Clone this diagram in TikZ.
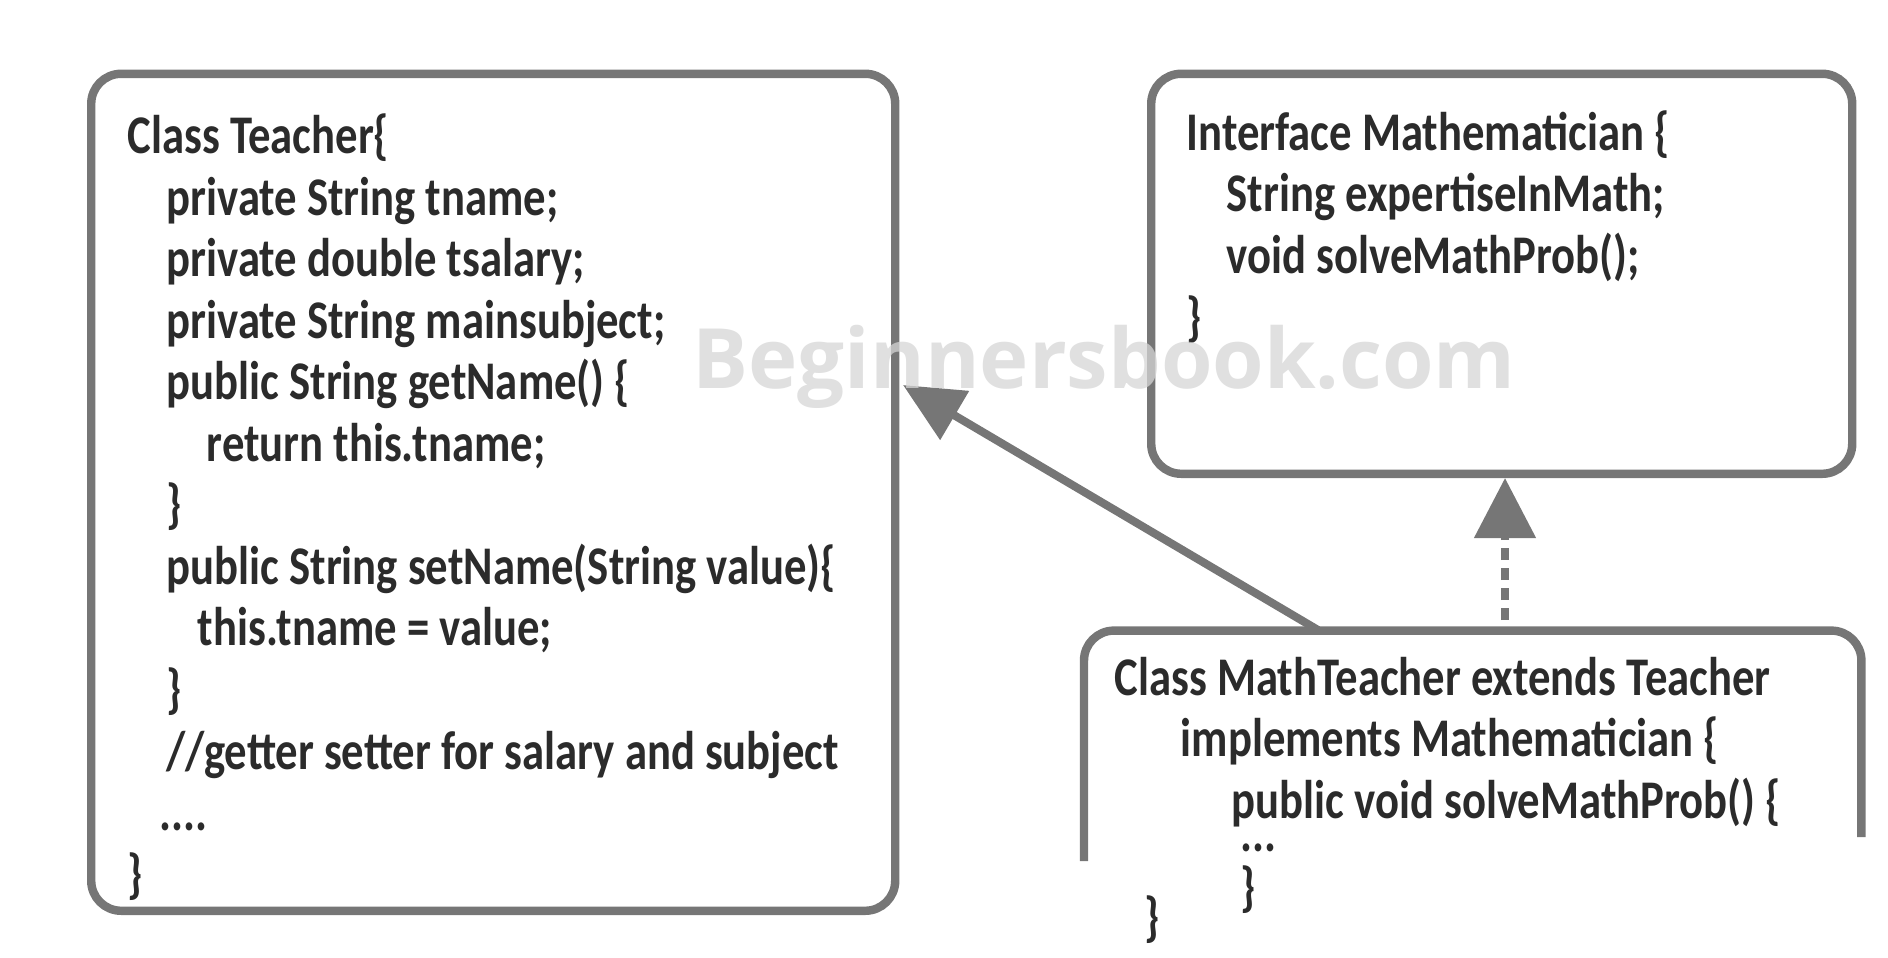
\documentclass[tikz,border=0pt]{standalone}
\usepackage{fontspec}
\usepackage{tikz}
\usetikzlibrary{arrows.meta}

\newfontfamily\codefont{Carlito}[FakeStretch=0.82]
\newfontfamily\markfont{Open Sans}
\definecolor{boxgray}{HTML}{767676}
\definecolor{codegray}{HTML}{2B2B2B}
\definecolor{markgray}{HTML}{D6D6D6}

\tikzset{
  codebox/.style={rectangle, draw=boxgray, line width=2.4pt, fill=white, rounded corners=0.3cm, anchor=south west},
  code/.style={inner sep=0pt, anchor=base west, align=left, text=codegray, font=\codefont\bfseries\fontsize{15.5}{17.5}\selectfont},
  link/.style={draw=boxgray, line width=2.3pt},
}

\begin{document}
\begin{tikzpicture}

\useasboundingbox (0,0) rectangle (18.88,9.57);

\node at (0.87,0.42) [codebox, minimum width=8.04cm, minimum height=8.37cm] (teacher) {};
\node at (11.47,4.79) [codebox, minimum width=7.01cm, minimum height=4.00cm] (mathematician) {};
\node at (10.84,0.96) [rectangle, minimum width=7.76cm, minimum height=2.29cm, anchor=south west] (mathteacher) {};
\draw[boxgray, line width=2.4pt, rounded corners=0.3cm] (mathteacher.south west) -- (mathteacher.north west) -- (mathteacher.north east) -- ([yshift=0.24cm]mathteacher.south east);

% base anchor sits on the last line
\node at (1.27,0.65) [code] (teachercode) {Class Teacher\{\\
\hspace*{0.39cm}private String tname;\\
\hspace*{0.39cm}private double tsalary;\\
\hspace*{0.39cm}private String mainsubject;\\
\hspace*{0.39cm}public String getName() \{\\
\hspace*{0.79cm}return this.tname;\\
\hspace*{0.39cm}\}\\
\hspace*{0.39cm}public String setName(String value)\{\\
\hspace*{0.70cm}this.tname = value;\\
\hspace*{0.39cm}\}\\
\hspace*{0.39cm}//getter setter for salary and subject\\
\hspace*{0.32cm}....\\
\}};

\node at (11.86,6.22) [code] (mathematiciancode) {Interface Mathematician \{\\
\hspace*{0.40cm}String expertiseInMath;\\
\hspace*{0.40cm}void solveMathProb();\\
\}};

\node at (11.14,1.39) [code] (mathteachercode) {Class MathTeacher extends Teacher\\
\hspace*{0.66cm}implements Mathematician \{\\
\hspace*{1.17cm}public void solveMathProb() \{};
\node at (12.40,1.06) [code] (mathteacherdots) {...};
\node at (12.40,0.52) [code] (mathteacherclose) {\}};
\node at (11.44,0.22) [code] (classclose) {\}};

\coordinate (extendsfoot) at (13.18,3.27);
\coordinate (extendstip) at (9.03,5.72);
\coordinate (implementsfoot) at (15.05,3.37);
\draw[link, -{Triangle[length=0.6cm, width=0.55cm]}] (extendsfoot) -- (extendstip);
\draw[link, dash pattern=on 0.12cm off 0.08cm, -{Triangle[length=0.6cm, width=0.6cm]}] (implementsfoot) -- (implementsfoot |- mathematician.south);

\node at (6.92,5.69) [anchor=base west, inner sep=0pt, text=markgray, opacity=0.75, font=\markfont\bfseries\fontsize{23.7}{28}\selectfont] (watermark) {Beginnersbook.com};

\end{tikzpicture}
\end{document}
